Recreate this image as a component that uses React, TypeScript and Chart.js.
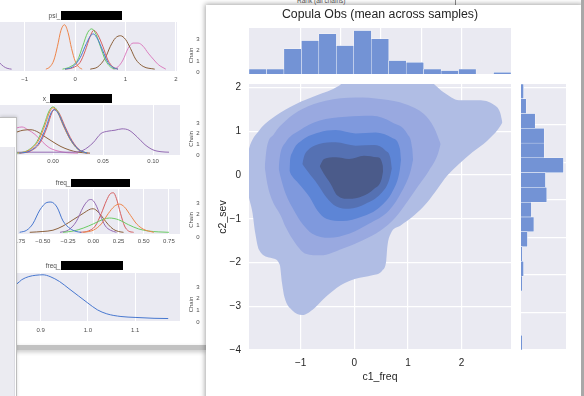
import React, { useEffect, useRef } from "react";
import { Chart, registerables } from "chart.js";

Chart.register(...registerables);

type Pt = [number, number];

const FONT = '"Liberation Sans", Arial, Helvetica, sans-serif';
const PLOT_BG = "#eaeaf2";
const GRID = "#ffffff";
const DARK_TEXT = "#262626";
const SMALL_TEXT = "#4d4d4d";
const HIST_COLOR = "#7393d5";

const C = {
  blue: "#4878d0",
  orange: "#ee854a",
  green: "#6acc64",
  red: "#d65f5f",
  purple: "#956cb4",
  brown: "#8c613c",
  pink: "#dc7ec0",
};

// ---------------- Copula joint plot data ----------------
const jointTitle = "Copula Obs (mean across samples)";
const jointXLabel = "c1_freq";
const jointYLabel = "c2_sev";
const jointXTicks = [-1, 0, 1, 2];
const jointYTicks = [-4, -3, -2, -1, 0, 1, 2];
const JX_MIN = -1.963;
const JX_MAX = 2.92;
const JY_MIN = -4;
const JY_MAX = 2.08;

// marginal histogram counts (c1: left -> right, c2: top -> bottom)
const c1HistCounts = [3, 3, 15, 20, 24, 17, 26, 21, 8, 7, 3, 2, 3, 0, 1];
const c2HistCounts = [2, 4, 11, 18, 18, 33, 19, 20, 8, 10, 5, 1, 2, 1, 0, 0, 0, 1];

// KDE contour levels: upper / lower boundaries (x sorted)
const level1Upper: Pt[] = [
  [-2.05, 0.05], [-1.963, 0.6], [-1.776, 1.012], [-1.466, 1.354], [-1.093, 1.62], [-0.72, 1.81],
  [-0.286, 2.04], [-0.1, 2.23], [0.83, 2.23], [1.39, 2.15], [1.67, 1.886], [1.95, 1.71],
  [2.323, 1.71], [2.6, 1.605], [2.72, 1.42], [2.76, 1.2],
];
const level1Lower: Pt[] = [
  [-2.05, 0.05], [-1.963, -0.52], [-1.9, -0.85], [-1.85, -1.3], [-1.78, -1.7], [-1.53, -1.9],
  [-1.39, -2.05], [-1.35, -2.45], [-1.3, -2.8], [-1.16, -3.09], [-0.97, -3.2], [-0.75, -3.05],
  [-0.534, -2.79], [-0.255, -2.52], [0.025, -2.37], [0.335, -2.29], [0.522, -2.18], [0.596, -1.95],
  [0.615, -1.647], [0.677, -1.343], [0.863, -1.153], [1.112, -0.925], [1.36, -0.62], [1.547, -0.318],
  [1.733, -0.014], [1.95, 0.252], [2.2, 0.518], [2.478, 0.784], [2.683, 1.05], [2.76, 1.2],
];
const level2Upper: Pt[] = [
  [-1.67, 0.18], [-1.64, 0.557], [-1.497, 0.936], [-1.28, 1.24], [-0.969, 1.506], [-0.534, 1.696],
  [0.025, 1.772], [0.522, 1.734], [0.957, 1.62], [1.298, 1.392], [1.484, 1.088], [1.61, 0.71],
];
const level2Lower: Pt[] = [
  [-1.67, 0.18], [-1.621, -0.203], [-1.528, -0.583], [-1.373, -0.925], [-1.28, -1.191], [-1.093, -1.571],
  [-0.907, -1.8], [-0.627, -1.837], [-0.224, -1.685], [0.149, -1.495], [0.49, -1.267], [0.77, -0.963],
  [0.957, -0.66], [1.174, -0.28], [1.391, 0.1], [1.547, 0.443], [1.61, 0.71],
];
const level3Upper: Pt[] = [
  [-1.41, 0.15], [-1.39, 0.4], [-1.28, 0.746], [-1.031, 1.012], [-0.658, 1.24], [-0.161, 1.331],
  [0.335, 1.354], [0.708, 1.202], [0.988, 0.936], [1.08, 0.6], [1.095, 0.35],
];
const level3Lower: Pt[] = [
  [-1.41, 0.15], [-1.373, -0.051], [-1.28, -0.431], [-1.124, -0.811], [-0.969, -1.115], [-0.783, -1.343],
  [-0.472, -1.435], [-0.099, -1.343], [0.273, -1.115], [0.646, -0.811], [0.894, -0.355], [1.05, 0.1],
  [1.095, 0.35],
];
const level4Upper: Pt[] = [
  [-1.21, 0.1], [-1.2, 0.3], [-1.155, 0.518], [-0.969, 0.799], [-0.658, 0.974], [-0.348, 1.027],
  [0.025, 0.951], [0.398, 0.974], [0.708, 0.845], [0.85, 0.6], [0.87, 0.35],
];
const level4Lower: Pt[] = [
  [-1.21, 0.1], [-1.168, -0.014], [-1.031, -0.203], [-0.832, -0.507], [-0.689, -0.811], [-0.522, -1.001],
  [-0.224, -1.054], [0.149, -0.948], [0.472, -0.735], [0.72, -0.355], [0.845, 0.1], [0.87, 0.35],
];
const level5Upper: Pt[] = [
  [-0.97, 0.25], [-0.93, 0.45], [-0.876, 0.557], [-0.658, 0.709], [-0.348, 0.746], [0.025, 0.67],
  [0.366, 0.685], [0.584, 0.557], [0.67, 0.4], [0.7, 0.15],
];
const level5Lower: Pt[] = [
  [-0.97, 0.25], [-0.857, 0.062], [-0.689, -0.203], [-0.522, -0.507], [-0.335, -0.72], [-0.099, -0.773],
  [0.211, -0.659], [0.491, -0.431], [0.646, -0.127], [0.7, 0.15],
];
const level6Upper: Pt[] = [
  [-0.645, 0.2], [-0.565, 0.366], [-0.348, 0.404], [-0.099, 0.366], [0.18, 0.442], [0.429, 0.404],
  [0.53, 0.22], [0.535, 0.08],
];
const level6Lower: Pt[] = [
  [-0.645, 0.2], [-0.565, 0.024], [-0.441, -0.203], [-0.317, -0.469], [-0.099, -0.545], [0.149, -0.485],
  [0.366, -0.318], [0.509, -0.09], [0.535, 0.08],
];

// ---------------- background trace-plot densities ----------------
const chainTicks = [0, 1, 2, 3];

const psiTicks = [-1, 0, 1, 2];
const psiBlue: Pt[] = [[-0.2, 0], [-0.05, 0.05], [0.1, 0.25], [0.2, 0.5], [0.3, 0.72], [0.36, 0.77], [0.45, 0.65], [0.55, 0.4], [0.65, 0.15], [0.75, 0.04], [0.85, 0]];
const psiOrange: Pt[] = [[-0.58, 0], [-0.5, 0.05], [-0.42, 0.2], [-0.35, 0.5], [-0.28, 0.85], [-0.21, 0.97], [-0.14, 0.8], [-0.07, 0.45], [0.0, 0.18], [0.07, 0.05], [0.14, 0]];
const psiGreen: Pt[] = [[-0.25, 0], [-0.1, 0.05], [0.05, 0.2], [0.15, 0.5], [0.25, 0.8], [0.33, 0.88], [0.42, 0.75], [0.5, 0.5], [0.6, 0.2], [0.7, 0.05], [0.8, 0]];
const psiRed: Pt[] = [[-0.2, 0], [-0.05, 0.03], [0.1, 0.15], [0.2, 0.4], [0.3, 0.72], [0.37, 0.85], [0.45, 0.75], [0.55, 0.5], [0.65, 0.2], [0.75, 0.05], [0.85, 0]];
const psiPurple: Pt[] = [[-1.6, 0.25], [-1.49, 0.13], [-1.42, 0.06], [-1.35, 0.02], [-1.26, 0]];
const psiBrown: Pt[] = [[0.3, 0], [0.45, 0.05], [0.6, 0.25], [0.7, 0.5], [0.8, 0.68], [0.9, 0.73], [1.0, 0.65], [1.1, 0.45], [1.2, 0.22], [1.35, 0.06], [1.58, 0]];
const psiPink: Pt[] = [[0.75, 0], [0.85, 0.05], [0.95, 0.2], [1.05, 0.45], [1.15, 0.57], [1.25, 0.57], [1.35, 0.5], [1.45, 0.35], [1.55, 0.22], [1.65, 0.1], [1.8, 0]];

const xTicks = [0, 0.05, 0.1];
const xGreen: Pt[] = [[-0.036, 0], [-0.026, 0.05], [-0.016, 0.25], [-0.009, 0.6], [-0.004, 0.9], [0.0, 0.99], [0.004, 0.92], [0.01, 0.62], [0.017, 0.3], [0.025, 0.08], [0.034, 0]];
const xOrange: Pt[] = [[-0.035, 0], [-0.025, 0.05], [-0.015, 0.25], [-0.008, 0.6], [-0.003, 0.9], [0.0, 0.97], [0.004, 0.9], [0.01, 0.6], [0.017, 0.3], [0.025, 0.08], [0.033, 0]];
const xBlue: Pt[] = [[-0.034, 0], [-0.024, 0.04], [-0.014, 0.22], [-0.007, 0.55], [-0.002, 0.86], [0.001, 0.93], [0.005, 0.86], [0.011, 0.58], [0.018, 0.28], [0.026, 0.07], [0.034, 0]];
const xRed: Pt[] = [[-0.033, 0], [-0.023, 0.04], [-0.013, 0.22], [-0.006, 0.55], [-0.001, 0.87], [0.002, 0.94], [0.006, 0.86], [0.012, 0.57], [0.019, 0.27], [0.027, 0.06], [0.035, 0]];
const xBrown: Pt[] = [[-0.055, 0.3], [-0.04, 0.42], [-0.03, 0.49], [-0.022, 0.5], [-0.015, 0.45], [-0.008, 0.35], [0.0, 0.24], [0.008, 0.14], [0.016, 0.07], [0.025, 0.02], [0.037, 0]];
const xPink: Pt[] = [[-0.055, 0.3], [-0.045, 0.45], [-0.036, 0.54], [-0.031, 0.56], [-0.025, 0.5], [-0.018, 0.4], [-0.01, 0.23], [-0.004, 0.12], [0.004, 0.05], [0.014, 0.01], [0.025, 0]];
const xPurple: Pt[] = [[-0.055, 0.01], [-0.03, 0.02], [0.0, 0.02], [0.02, 0.02], [0.03, 0.06], [0.04, 0.22], [0.048, 0.42], [0.055, 0.47], [0.062, 0.49], [0.069, 0.52], [0.076, 0.49], [0.084, 0.35], [0.092, 0.18], [0.1, 0.07], [0.108, 0.03], [0.116, 0.02]];

const freqATicks = [-0.75, -0.5, -0.25, 0, 0.25, 0.5, 0.75];
const fBlue: Pt[] = [[-0.73, 0], [-0.66, 0.05], [-0.6, 0.2], [-0.53, 0.53], [-0.46, 0.71], [-0.42, 0.72], [-0.36, 0.6], [-0.3, 0.27], [-0.23, 0.09], [-0.17, 0.02], [-0.12, 0]];
const fPurple: Pt[] = [[-0.33, 0], [-0.25, 0.05], [-0.17, 0.25], [-0.1, 0.6], [-0.05, 0.76], [-0.02, 0.78], [0.02, 0.68], [0.07, 0.4], [0.12, 0.15], [0.17, 0.05], [0.23, 0]];
const fBrown: Pt[] = [[-0.63, 0], [-0.5, 0.02], [-0.4, 0.05], [-0.3, 0.15], [-0.2, 0.3], [-0.1, 0.45], [-0.03, 0.55], [0.0, 0.56], [0.05, 0.48], [0.1, 0.33], [0.15, 0.18], [0.2, 0.07], [0.25, 0.02], [0.3, 0]];
const fGreen: Pt[] = [[-0.3, 0], [-0.2, 0.03], [-0.1, 0.1], [0.0, 0.2], [0.1, 0.31], [0.16, 0.34], [0.25, 0.3], [0.35, 0.18], [0.45, 0.08], [0.55, 0.03], [0.65, 0.01], [0.75, 0]];
const fRed: Pt[] = [[-0.13, 0], [-0.05, 0.03], [0.02, 0.15], [0.08, 0.45], [0.13, 0.75], [0.17, 0.92], [0.2, 0.94], [0.23, 0.8], [0.27, 0.45], [0.31, 0.15], [0.35, 0.03], [0.4, 0]];
const fOrange: Pt[] = [[-0.1, 0], [0.0, 0.05], [0.08, 0.2], [0.15, 0.45], [0.21, 0.62], [0.26, 0.67], [0.31, 0.6], [0.37, 0.4], [0.43, 0.2], [0.5, 0.07], [0.6, 0]];

const freqBTicks = [0.9, 1.0, 1.1];
const gBlue: Pt[] = [[0.81, 0.62], [0.83, 0.72], [0.85, 0.79], [0.86, 0.88], [0.875, 0.95], [0.89, 0.98], [0.905, 0.99], [0.92, 0.95], [0.94, 0.84], [0.96, 0.68], [0.98, 0.52], [1.0, 0.36], [1.02, 0.21], [1.04, 0.12], [1.07, 0.06], [1.1, 0.04], [1.14, 0.02], [1.17, 0.015]];

// ---------------- helpers ----------------
const plotBg = {
  id: "plotBg",
  beforeDraw(chart: any, _args: any, opts: any) {
    if (!opts || !opts.color) return;
    const { ctx, chartArea: a } = chart;
    ctx.save();
    ctx.fillStyle = opts.color;
    ctx.fillRect(a.left, a.top, a.right - a.left, a.bottom - a.top);
    ctx.restore();
  },
};
Chart.register(plotBg);

const fixedTicks = (vals: number[]) => (scale: any) => {
  scale.ticks = vals.map((v) => ({ value: v }));
};
const fmt = (d: number) => (v: any) => {
  const n = Number(v);
  return (n < -1e-9 ? "\u2212" : "") + Math.abs(n).toFixed(d);
};
const toXY = (pts: Pt[]) => pts.map(([x, y]) => ({ x, y }));
const binLabels = (n: number, a: number, b: number) =>
  Array.from({ length: n }, (_, i) => (a + ((i + 0.5) * (b - a)) / n).toFixed(3));

const noUi = { legend: { display: false }, tooltip: { enabled: false } };

function ChartCanvas({ left, top, width, height, z, make }: any) {
  const ref = useRef<HTMLCanvasElement | null>(null);
  useEffect(() => {
    if (!ref.current) return;
    const chart = new Chart(ref.current, make());
    return () => chart.destroy();
  }, []);
  return (
    <canvas
      ref={ref}
      width={width}
      height={height}
      style={{ position: "absolute", left, top, width, height, zIndex: z }}
    />
  );
}

function kdeConfig(series: { data: Pt[]; color: string }[], xMin: number, xMax: number, ticks: number[], dec: number, padTop: number, axisH: number, tickPad: number) {
  return {
    type: "line",
    data: {
      datasets: series.map((s) => ({
        data: toXY(s.data),
        borderColor: s.color,
        borderWidth: 1,
        pointRadius: 0,
        fill: false,
        cubicInterpolationMode: "monotone",
      })),
    },
    options: {
      responsive: false,
      animation: false,
      events: [],
      layout: { padding: { left: 0, right: 3, top: padTop, bottom: 0 } },
      plugins: { ...noUi, plotBg: { color: PLOT_BG } },
      scales: {
        x: {
          type: "linear",
          min: xMin,
          max: xMax,
          afterBuildTicks: fixedTicks(ticks),
          afterFit: (s: any) => {
            s.height = axisH;
          },
          grid: { color: GRID, lineWidth: 1, drawTicks: false },
          border: { display: false },
          ticks: { font: { family: FONT, size: 6 }, color: SMALL_TEXT, padding: tickPad, callback: fmt(dec), maxRotation: 0, autoSkip: false },
        },
        y: { type: "linear", min: -0.04, max: 1.03, display: false },
      },
    },
  };
}

function chainConfig() {
  return {
    type: "line",
    data: { datasets: [] },
    options: {
      responsive: false,
      animation: false,
      events: [],
      layout: { padding: { left: 0, right: 0, top: 6, bottom: 6 } },
      plugins: { ...noUi },
      scales: {
        x: { display: false },
        y: {
          type: "linear",
          min: 0,
          max: 3,
          afterBuildTicks: fixedTicks(chainTicks),
          afterFit: (s: any) => {
            s.width = 18;
          },
          grid: { display: false, drawTicks: false },
          border: { display: false },
          ticks: { font: { family: FONT, size: 6 }, color: SMALL_TEXT, padding: 1.5, callback: fmt(0) },
          title: { display: true, text: "Chain", color: SMALL_TEXT, font: { family: FONT, size: 6 }, padding: { top: 5, bottom: 0 } },
        },
      },
    },
  };
}

function contourConfig() {
  const levels = [
    { upper: level6Upper, lower: level6Lower, color: "#4b5b8a" },
    { upper: level5Upper, lower: level5Lower, color: "#5571b3" },
    { upper: level4Upper, lower: level4Lower, color: "#5d85d6" },
    { upper: level3Upper, lower: level3Lower, color: "#7f99dd" },
    { upper: level2Upper, lower: level2Lower, color: "#99a9e0" },
    { upper: level1Upper, lower: level1Lower, color: "#b0bde4" },
  ];
  const datasets: any[] = [];
  levels.forEach((lv) => {
    const base = { borderWidth: 0, borderColor: "rgba(0,0,0,0)", pointRadius: 0, cubicInterpolationMode: "monotone", backgroundColor: lv.color };
    datasets.push({ ...base, data: toXY(lv.lower), fill: false });
    datasets.push({ ...base, data: toXY(lv.upper), fill: "-1" });
  });
  return {
    type: "line",
    data: { datasets },
    options: {
      responsive: false,
      animation: false,
      events: [],
      layout: { padding: { left: 0, right: 5, top: 18, bottom: 0 } },
      plugins: { ...noUi, plotBg: { color: PLOT_BG } },
      scales: {
        x: {
          type: "linear",
          min: JX_MIN,
          max: JX_MAX,
          afterBuildTicks: fixedTicks(jointXTicks),
          afterFit: (s: any) => {
            s.height = 46;
          },
          grid: { color: GRID, lineWidth: 1.2, drawTicks: false },
          border: { display: false },
          ticks: { font: { family: FONT, size: 10 }, color: DARK_TEXT, padding: 7, callback: fmt(0) },
          title: { display: true, text: jointXLabel, color: DARK_TEXT, font: { family: FONT, size: 10.5 }, padding: { top: 0, bottom: 12.7 } },
        },
        y: {
          type: "linear",
          min: JY_MIN,
          max: JY_MAX,
          afterBuildTicks: fixedTicks(jointYTicks),
          afterFit: (s: any) => {
            s.width = 43;
          },
          grid: { color: GRID, lineWidth: 1.2, drawTicks: false },
          border: { display: false },
          ticks: { font: { family: FONT, size: 10 }, color: DARK_TEXT, padding: 8, callback: fmt(0) },
          title: { display: true, text: jointYLabel, color: DARK_TEXT, font: { family: FONT, size: 10.5 }, padding: { top: 10.7, bottom: 0 } },
        },
      },
    },
  };
}

function topHistConfig() {
  return {
    type: "bar",
    data: {
      labels: binLabels(c1HistCounts.length, JX_MIN, JX_MAX),
      datasets: [
        { data: c1HistCounts, backgroundColor: HIST_COLOR, borderColor: "#ffffff", borderWidth: 0.5, barPercentage: 1, categoryPercentage: 1 },
      ],
    },
    options: {
      responsive: false,
      animation: false,
      events: [],
      layout: { padding: { left: 43, right: 5, top: 0, bottom: 0 } },
      plugins: {
        ...noUi,
        plotBg: { color: PLOT_BG },
        title: { display: true, text: jointTitle, color: DARK_TEXT, font: { family: FONT, size: 12.3, weight: "normal" }, padding: { top: 2.6, bottom: 5.6 } },
      },
      scales: {
        x: { type: "category", display: false },
        xg: {
          type: "linear",
          position: "bottom",
          min: JX_MIN,
          max: JX_MAX,
          afterBuildTicks: fixedTicks(jointXTicks),
          afterFit: (s: any) => {
            s.height = 0;
          },
          ticks: { display: false },
          grid: { color: GRID, lineWidth: 1.2, drawTicks: false },
          border: { display: false },
        },
        y: { type: "linear", min: 0, max: 27.5, display: false },
      },
    },
  };
}

function rightHistConfig() {
  return {
    type: "bar",
    data: {
      labels: binLabels(c2HistCounts.length, JY_MAX, JY_MIN),
      datasets: [
        { data: c2HistCounts, backgroundColor: HIST_COLOR, borderColor: "#ffffff", borderWidth: 0.5, barPercentage: 1, categoryPercentage: 1 },
      ],
    },
    options: {
      indexAxis: "y",
      responsive: false,
      animation: false,
      events: [],
      layout: { padding: { left: 5, right: 5, top: 14, bottom: 10 } },
      plugins: { ...noUi, plotBg: { color: PLOT_BG } },
      scales: {
        y: { type: "category", display: false },
        yg: {
          type: "linear",
          position: "left",
          min: JY_MIN,
          max: JY_MAX,
          afterBuildTicks: fixedTicks(jointYTicks),
          afterFit: (s: any) => {
            s.width = 0;
          },
          ticks: { display: false },
          grid: { color: GRID, lineWidth: 1.2, drawTicks: false },
          border: { display: false },
        },
        x: { type: "linear", min: 0, max: 35, display: false },
      },
    },
  };
}

function Redacted({ label, right, top, height, boxLeft, boxWidth }: any) {
  return (
    <>
      <div
        style={{
          position: "absolute",
          left: right - 40,
          width: 40,
          top,
          height,
          lineHeight: `${height}px`,
          fontSize: 6.5,
          color: SMALL_TEXT,
          textAlign: "right",
          whiteSpace: "nowrap",
          zIndex: 3,
        }}
      >
        {label}
      </div>
      <div style={{ position: "absolute", left: boxLeft, top, width: boxWidth, height, background: "#000", zIndex: 3 }} />
    </>
  );
}

export default function App() {
  const psiSeries = [
    { data: psiBlue, color: C.blue }, { data: psiOrange, color: C.orange }, { data: psiGreen, color: C.green },
    { data: psiRed, color: C.red }, { data: psiPurple, color: C.purple }, { data: psiBrown, color: C.brown },
    { data: psiPink, color: C.pink },
  ];
  const xSeries = [
    { data: xBlue, color: C.blue }, { data: xOrange, color: C.orange }, { data: xGreen, color: C.green },
    { data: xRed, color: C.red }, { data: xPurple, color: C.purple }, { data: xBrown, color: C.brown },
    { data: xPink, color: C.pink },
  ];
  const fSeries = [
    { data: fBlue, color: C.blue }, { data: fOrange, color: C.orange }, { data: fGreen, color: C.green },
    { data: fRed, color: C.red }, { data: fPurple, color: C.purple }, { data: fBrown, color: C.brown },
  ];
  const gSeries = [{ data: gBlue, color: C.blue }];

  return (
    <div
      style={{
        position: "fixed",
        left: 0,
        top: 0,
        width: 584,
        height: 396,
        overflow: "hidden",
        background: "#ffffff",
        fontFamily: FONT,
      }}
    >
      {/* window behind, top */}
      <div style={{ position: "absolute", left: 297, top: -3, fontSize: 6.5, color: "#555", zIndex: 1, whiteSpace: "nowrap" }}>
        Rank (all chains)
      </div>
      <div style={{ position: "absolute", left: 455, top: 0, width: 1, height: 6, background: "#8a8a8a", zIndex: 1 }} />

      {/* left background trace densities */}
      <ChartCanvas left={0} top={12} width={182} height={78} z={2} make={() => kdeConfig(psiSeries, -1.49, 2.02, psiTicks, 0, 10, 19, 4.4)} />
      <ChartCanvas left={0} top={95} width={183} height={72} z={2} make={() => kdeConfig(xSeries, -0.053, 0.127, xTicks, 2, 10, 12, 3)} />
      <ChartCanvas left={0} top={180} width={183} height={66} z={2} make={() => kdeConfig(fSeries, -0.925, 0.86, freqATicks, 2, 9, 12, 3.4)} />
      <ChartCanvas left={0} top={264} width={183} height={71} z={2} make={() => kdeConfig(gSeries, 0.814, 1.195, freqBTicks, 1, 9, 14, 5.4)} />

      <Redacted label="psi_" right={60.5} top={11} height={9} boxLeft={61} boxWidth={61} />
      <Redacted label="x_" right={49.5} top={94} height={9} boxLeft={50} boxWidth={62} />
      <Redacted label="freq_" right={70.5} top={179} height={8} boxLeft={71} boxWidth={59} />
      <Redacted label="freq_" right={60.5} top={261} height={9} boxLeft={61} boxWidth={62} />

      <ChartCanvas left={183} top={33} width={28} height={45} z={2} make={chainConfig} />
      <ChartCanvas left={183} top={117} width={28} height={44} z={2} make={chainConfig} />
      <ChartCanvas left={183} top={197} width={28} height={46} z={2} make={chainConfig} />
      <ChartCanvas left={183} top={281} width={28} height={47} z={2} make={chainConfig} />

      {/* bottom edge of the background window */}
      <div style={{ position: "absolute", left: 0, top: 345, width: 206, height: 5, background: "#c2c2c2", boxShadow: "0 2px 4px rgba(0,0,0,0.22)", zIndex: 3 }} />

      {/* small panel on the far left */}
      <div
        style={{
          position: "absolute",
          left: 0,
          top: 117,
          width: 17,
          height: 290,
          background: "#ffffff",
          borderTop: "1px solid #bdbdbd",
          borderRight: "1px solid #bdbdbd",
          boxSizing: "border-box",
          boxShadow: "0 -1px 3px rgba(0,0,0,0.15)",
          zIndex: 4,
        }}
      >
        <div style={{ position: "absolute", left: 0, top: 29, width: 14, bottom: 0, background: "#ebebf1", borderRight: "1px solid #dcdce3" }} />
      </div>

      {/* main window */}
      <div
        style={{
          position: "absolute",
          left: 206,
          top: 5,
          width: 376,
          height: 400,
          background: "#ffffff",
          boxShadow: "0 0 5px 1px rgba(0,0,0,0.35)",
          zIndex: 10,
        }}
      />
      <div style={{ position: "absolute", left: 581, top: 0, width: 3, height: 396, background: "#a8a8a8", zIndex: 12 }} />

      <ChartCanvas left={206} top={5} width={310} height={69} z={11} make={topHistConfig} />
      <ChartCanvas left={206} top={66} width={310} height={330} z={11} make={contourConfig} />
      <ChartCanvas left={516} top={70} width={55} height={290} z={11} make={rightHistConfig} />
    </div>
  );
}
